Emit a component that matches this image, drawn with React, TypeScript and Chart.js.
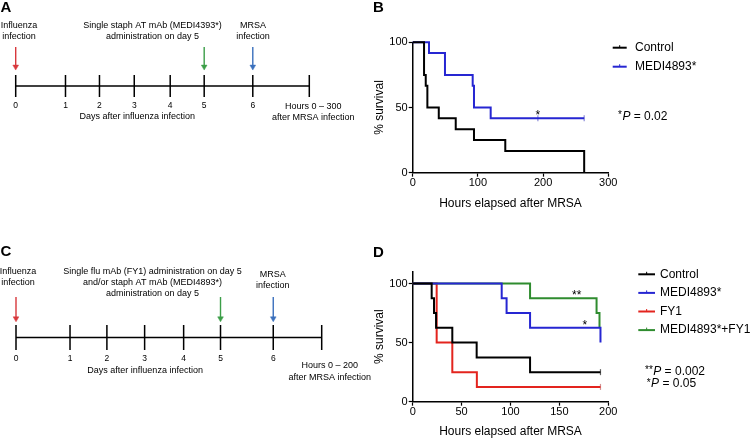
import React, { useEffect, useRef } from "react";
import { Chart, registerables } from "chart.js";

Chart.register(...registerables);

const FONT = '"Liberation Sans", Arial, Helvetica, sans-serif';
const W = 750;
const H = 440;

// ---------- Panels A and C: schematic timelines ----------
const dayLabels = ["0", "1", "2", "3", "4", "5", "6"];
// drawn positions of day marks along the schematic line (day units as drawn)
const dayTickAt = [0, 1.26, 2.12, 3.0, 3.91, 4.77, 6.0];
const timelineEndA = 7.43;
const timelineEndC = 7.13;
const aTopLabels = [
  ["Influenza", "infection"],
  ["Single staph AT mAb (MEDI4393*)", "administration on day 5"],
  ["MRSA", "infection"],
];
const cTopLabels = [
  ["Influenza", "infection"],
  ["Single flu mAb (FY1) administration on day 5", "and/or staph AT mAb (MEDI4893*)", "administration on day 5"],
  ["MRSA", "infection"],
];
const aHoursLabel = ["Hours 0 \u2013 300", "after MRSA infection"];
const cHoursLabel = ["Hours 0 \u2013 200", "after MRSA infection"];
const daysTitle = "Days after influenza infection";

// ---------- Panel B ----------
const bXTicks = [0, 100, 200, 300];
const bYTicks = [0, 50, 100];
const bControlHours = [0, 17.4, 20, 22.5, 40, 66, 94, 142, 263];
const bControlSurvival = [100, 75, 66.7, 50, 41.7, 33.3, 25, 16.7, 0];
const bMediHours = [0, 25, 49.5, 92, 94, 119.6, 263];
const bMediSurvival = [100, 91.7, 75, 66.7, 50, 41.7, 41.7];
const bMediCensorHours = [192, 263];
const bMediCensorSurvival = [41.7, 41.7];
const bLegend = ["Control", "MEDI4893*"];
const bStarAt = [192, 41.7];

// ---------- Panel D ----------
const dXTicks = [0, 50, 100, 150, 200];
const dYTicks = [0, 50, 100];
const dControlHours = [0, 19.4, 21.8, 23.9, 40.5, 65.4, 120, 192];
const dControlSurvival = [100, 87.5, 75, 62.5, 50, 37.5, 25, 25];
const dMediHours = [0, 91, 96, 120, 192];
const dMediSurvival = [100, 87.5, 75, 62.5, 50];
const dFy1Hours = [0, 24.5, 40.5, 65.6, 192];
const dFy1Survival = [100, 50, 25, 12.5, 12.5];
const dComboHours = [0, 120, 188, 191];
const dComboSurvival = [100, 87.5, 75, 62.5];
const dControlCensor = [[192], [25]];
const dFy1Censor = [[192], [12.5]];
const dLegend = ["Control", "MEDI4893*", "FY1", "MEDI4893*+FY1"];
const dDoubleStarAt = [167.7, 87.5];
const dStarAt = [176, 62.5];

// ---------- styles ----------
const BLACK = "#000000";
const BLUE = "#2626d2";
const RED = "#e3241e";
const GREEN = "#2f8c2f";
const ARROW_RED = "#d8383c";
const ARROW_GREEN = "#3c9e48";
const ARROW_BLUE = "#3b70bd";
const Y_AXIS_W = 45;

const pts = (xs: number[], ys: (number | null)[]) => xs.map((x, i) => ({ x, y: ys[i] }));

function txt(ctx: CanvasRenderingContext2D, s: string, x: number, y: number, size: number, align: CanvasTextAlign = "center", weight = "normal", style = "normal") {
  ctx.font = `${style} ${weight} ${size}px ${FONT}`;
  ctx.fillStyle = "#000";
  ctx.textAlign = align;
  ctx.textBaseline = "middle";
  ctx.fillText(s, x, y);
}

function pValue(ctx: CanvasRenderingContext2D, stars: string, rest: string, x: number, y: number) {
  ctx.fillStyle = "#000";
  ctx.textAlign = "left";
  ctx.textBaseline = "middle";
  ctx.font = `10px ${FONT}`;
  ctx.fillText(stars, x, y - 1);
  let cx = x + ctx.measureText(stars).width + 0.5;
  ctx.font = `italic 12px ${FONT}`;
  ctx.fillText("P", cx, y);
  cx += ctx.measureText("P").width;
  ctx.font = `12px ${FONT}`;
  ctx.fillText(rest, cx, y);
}

function legendRow(ctx: CanvasRenderingContext2D, x1: number, x2: number, tx: number, y: number, color: string, label: string) {
  ctx.strokeStyle = color;
  ctx.lineWidth = 2;
  ctx.beginPath();
  ctx.moveTo(x1, y);
  ctx.lineTo(x2, y);
  ctx.stroke();
  ctx.lineWidth = 1;
  ctx.beginPath();
  ctx.moveTo((x1 + x2) / 2, y - 2.5);
  ctx.lineTo((x1 + x2) / 2, y);
  ctx.stroke();
  txt(ctx, label, tx, y, 12, "left");
}

function starAt(ctx: CanvasRenderingContext2D, s: string, chart: any, at: number[]) {
  const px = chart.scales.x.getPixelForValue(at[0]);
  const py = chart.scales.y.getPixelForValue(at[1]);
  ctx.font = `12px ${FONT}`;
  ctx.fillStyle = "#000";
  ctx.textAlign = "center";
  ctx.textBaseline = "alphabetic";
  ctx.fillText(s, px, py + 1);
}

function kmLine(label: string, xs: number[], ys: number[], color: string) {
  return {
    label,
    data: pts(xs, ys),
    borderColor: color,
    backgroundColor: color,
    borderWidth: 2,
    stepped: true,
    pointRadius: 0,
    fill: false,
    clip: false as any,
  };
}

function censor(xs: number[], ys: number[], color: string) {
  return {
    label: "",
    data: pts(xs, ys),
    showLine: false,
    pointStyle: "line",
    rotation: 90,
    pointRadius: 3,
    pointBorderWidth: 1.2,
    pointBorderColor: color,
    borderColor: color,
    clip: false as any,
  };
}

function makeKm(canvas: HTMLCanvasElement, cfg: any) {
  const { area, xMax, xTicks, yMax, yTicks, xAxisH, xTitlePadBottom, datasets, extras } = cfg;
  const tickFont = { size: 11, family: FONT };
  const titleFont = { size: 12, family: FONT };
  return new Chart(canvas, {
    type: "line",
    data: { datasets },
    options: {
      animation: false,
      responsive: false,
      devicePixelRatio: 1,
      events: [],
      layout: {
        padding: {
          left: area.left - Y_AXIS_W,
          right: W - area.right,
          top: area.top,
          bottom: H - area.bottom - xAxisH,
        },
      },
      plugins: { legend: { display: false }, tooltip: { enabled: false }, title: { display: false } },
      scales: {
        x: {
          type: "linear",
          min: 0,
          max: xMax,
          afterBuildTicks: (s: any) => {
            s.ticks = xTicks.map((v: number) => ({ value: v }));
          },
          afterFit: (s: any) => {
            s.height = xAxisH;
          },
          grid: { display: true, drawOnChartArea: false, drawTicks: true, tickLength: 4, tickColor: "#000", tickWidth: 1.2 },
          border: { display: true, color: "#000", width: 1.5 },
          ticks: { font: tickFont, color: "#000", padding: 0, maxRotation: 0 },
          title: { display: true, text: "Hours elapsed after MRSA", font: titleFont, color: "#000", padding: { top: 0, bottom: xTitlePadBottom } },
        },
        y: {
          type: "linear",
          min: 0,
          max: yMax,
          afterBuildTicks: (s: any) => {
            s.ticks = yTicks.map((v: number) => ({ value: v }));
          },
          afterFit: (s: any) => {
            s.width = Y_AXIS_W;
          },
          grid: { display: true, drawOnChartArea: false, drawTicks: true, tickLength: 4, tickColor: "#000", tickWidth: 1.2 },
          border: { display: true, color: "#000", width: 1.5 },
          ticks: { font: tickFont, color: "#000", padding: 1 },
          title: { display: true, text: "% survival", font: titleFont, color: "#000", padding: { top: 5.1, bottom: 0 } },
        },
      },
    } as any,
    plugins: [extras],
  });
}

function makeTimeline(canvas: HTMLCanvasElement, cfg: any) {
  const { area, end, arrowTop, arrowHead, extras } = cfg;
  const marks = [...dayTickAt, end];
  const tickPts: any[] = [];
  marks.forEach((p) => {
    tickPts.push({ x: p, y: -1 }, { x: p, y: 1 }, { x: p, y: null });
  });
  const arrow = (p: number, color: string) => ({
    data: [
      { x: p, y: arrowTop },
      { x: p, y: arrowHead },
    ],
    borderColor: color,
    backgroundColor: color,
    borderWidth: 1.4,
    pointRadius: [0, 3.3],
    pointStyle: "triangle",
    rotation: 180,
    pointBackgroundColor: color,
    pointBorderColor: color,
    pointBorderWidth: 0.5,
    clip: false as any,
  });
  return new Chart(canvas, {
    type: "line",
    data: {
      datasets: [
        { data: [{ x: 0, y: 0 }, { x: end, y: 0 }], borderColor: BLACK, borderWidth: 1.5, pointRadius: 0, clip: false as any },
        { data: tickPts, borderColor: BLACK, borderWidth: 1.5, pointRadius: 0, spanGaps: false, clip: false as any },
        arrow(dayTickAt[0], ARROW_RED),
        arrow(dayTickAt[5], ARROW_GREEN),
        arrow(dayTickAt[6], ARROW_BLUE),
      ],
    },
    options: {
      animation: false,
      responsive: false,
      devicePixelRatio: 1,
      events: [],
      layout: { padding: { left: area.left, right: W - area.right, top: area.top, bottom: H - area.bottom } },
      plugins: { legend: { display: false }, tooltip: { enabled: false } },
      scales: {
        x: { type: "linear", display: false, min: 0, max: end },
        y: { type: "linear", display: false, min: -1, max: 4 },
      },
    } as any,
    plugins: [extras],
  });
}

function timelineText(id: string, letter: string, letterY: number, top: string[][], topX: number[], topY: number[], lineY: number, hours: string[], hoursDx: number, hoursY: number[], daysDx: number, daysY: number) {
  return {
    id,
    afterDraw(chart: any) {
      const ctx = chart.ctx as CanvasRenderingContext2D;
      const xs = chart.scales.x;
      ctx.save();
      txt(ctx, letter, 0.5, letterY, 15, "left", "bold");
      top.forEach((lines, i) => {
        lines.forEach((l, j) => txt(ctx, l, topX[i], topY[i] + j * 11, 9));
      });
      dayLabels.forEach((d, i) => txt(ctx, d, xs.getPixelForValue(dayTickAt[i]), lineY, 8.5));
      const mid = (xs.getPixelForValue(dayTickAt[0]) + xs.getPixelForValue(dayTickAt[6])) / 2;
      txt(ctx, daysTitle, mid + daysDx, daysY, 9);
      const ex = xs.getPixelForValue(xs.max) + hoursDx;
      hours.forEach((h, j) => txt(ctx, h, ex, hoursY[j], 9));
      ctx.restore();
    },
  };
}

export default function App() {
  const refA = useRef<HTMLCanvasElement>(null);
  const refB = useRef<HTMLCanvasElement>(null);
  const refC = useRef<HTMLCanvasElement>(null);
  const refD = useRef<HTMLCanvasElement>(null);

  useEffect(() => {
    document.body.style.margin = "0";
    const charts: Chart[] = [];

    // y range -1..4 : line at 0, tick marks span -1..1, arrows above
    charts.push(
      makeTimeline(refA.current!, {
        area: { left: 15.7, right: 309.3, top: 42, bottom: 97 },
        end: timelineEndA,
        arrowTop: 3.55,
        arrowHead: 1.75,
        extras: timelineText("extrasA", "A", 8, aTopLabels, [19, 152.5, 253], [26, 26, 26], 106, aHoursLabel, 4, [106.5, 117.5], 3, 117),
      })
    );

    charts.push(
      makeTimeline(refC.current!, {
        area: { left: 16, right: 321.7, top: 287.5, bottom: 350 },
        end: timelineEndC,
        arrowTop: 3.24,
        arrowHead: 1.52,
        extras: timelineText("extrasC", "C", 252, cTopLabels, [18, 152.5, 272.7], [272, 272, 275], 359, cHoursLabel, 8, [366, 377.5], 0.5, 371),
      })
    );

    const extrasB = {
      id: "extrasB",
      afterDraw(chart: any) {
        const ctx = chart.ctx as CanvasRenderingContext2D;
        ctx.save();
        txt(ctx, "B", 373, 8, 15, "left", "bold");
        const colors = [BLACK, BLUE];
        bLegend.forEach((l, i) => legendRow(ctx, 612.7, 626.7, 635, 47.7 + i * 19, colors[i], l));
        starAt(ctx, "*", chart, bStarAt);
        pValue(ctx, "*", " = 0.02", 618, 116.7);
        ctx.restore();
      },
    };

    charts.push(
      makeKm(refB.current!, {
        area: { left: 412.7, right: 608.3, top: 42.3, bottom: 172.7 },
        xMax: 300,
        xTicks: bXTicks,
        yMax: 100,
        yTicks: bYTicks,
        xAxisH: 40,
        xTitlePadBottom: 2.2,
        datasets: [
          kmLine("Control", bControlHours, bControlSurvival, BLACK),
          kmLine("MEDI4893*", bMediHours, bMediSurvival, BLUE),
          censor(bMediCensorHours, bMediCensorSurvival, "rgba(90,90,200,0.7)"),
        ],
        extras: extrasB,
      })
    );

    const extrasD = {
      id: "extrasD",
      afterDraw(chart: any) {
        const ctx = chart.ctx as CanvasRenderingContext2D;
        ctx.save();
        txt(ctx, "D", 373, 253, 15, "left", "bold");
        const colors = [BLACK, BLUE, RED, GREEN];
        dLegend.forEach((l, i) => legendRow(ctx, 638.3, 655, 660, 274.3 + i * 18.6, colors[i], l));
        starAt(ctx, "**", chart, dDoubleStarAt);
        starAt(ctx, "*", chart, dStarAt);
        pValue(ctx, "**", " = 0.002", 645, 371.7);
        pValue(ctx, "*", " = 0.05", 646.7, 384);
        ctx.restore();
      },
    };

    charts.push(
      makeKm(refD.current!, {
        area: { left: 412.7, right: 608.3, top: 271.7, bottom: 401.7 },
        xMax: 200,
        xTicks: dXTicks,
        yMax: 110,
        yTicks: dYTicks,
        xAxisH: 38,
        xTitlePadBottom: 0.6,
        datasets: [
          kmLine("Control", dControlHours, dControlSurvival, BLACK),
          kmLine("MEDI4893*", dMediHours, dMediSurvival, BLUE),
          kmLine("MEDI4893*+FY1", dComboHours, dComboSurvival, GREEN),
          kmLine("FY1", dFy1Hours, dFy1Survival, RED),
          censor(dControlCensor[0], dControlCensor[1], "rgba(60,60,60,0.8)"),
          censor(dFy1Censor[0], dFy1Censor[1], "rgba(200,120,120,0.8)"),
        ],
        extras: extrasD,
      })
    );

    return () => charts.forEach((c) => c.destroy());
  }, []);

  const cs: React.CSSProperties = { position: "absolute", left: 0, top: 0 };
  return (
    <div style={{ position: "fixed", left: 0, top: 0, width: W, height: H, background: "#fff", overflow: "hidden" }}>
      <canvas ref={refA} width={W} height={H} style={cs} />
      <canvas ref={refC} width={W} height={H} style={cs} />
      <canvas ref={refB} width={W} height={H} style={cs} />
      <canvas ref={refD} width={W} height={H} style={cs} />
    </div>
  );
}
